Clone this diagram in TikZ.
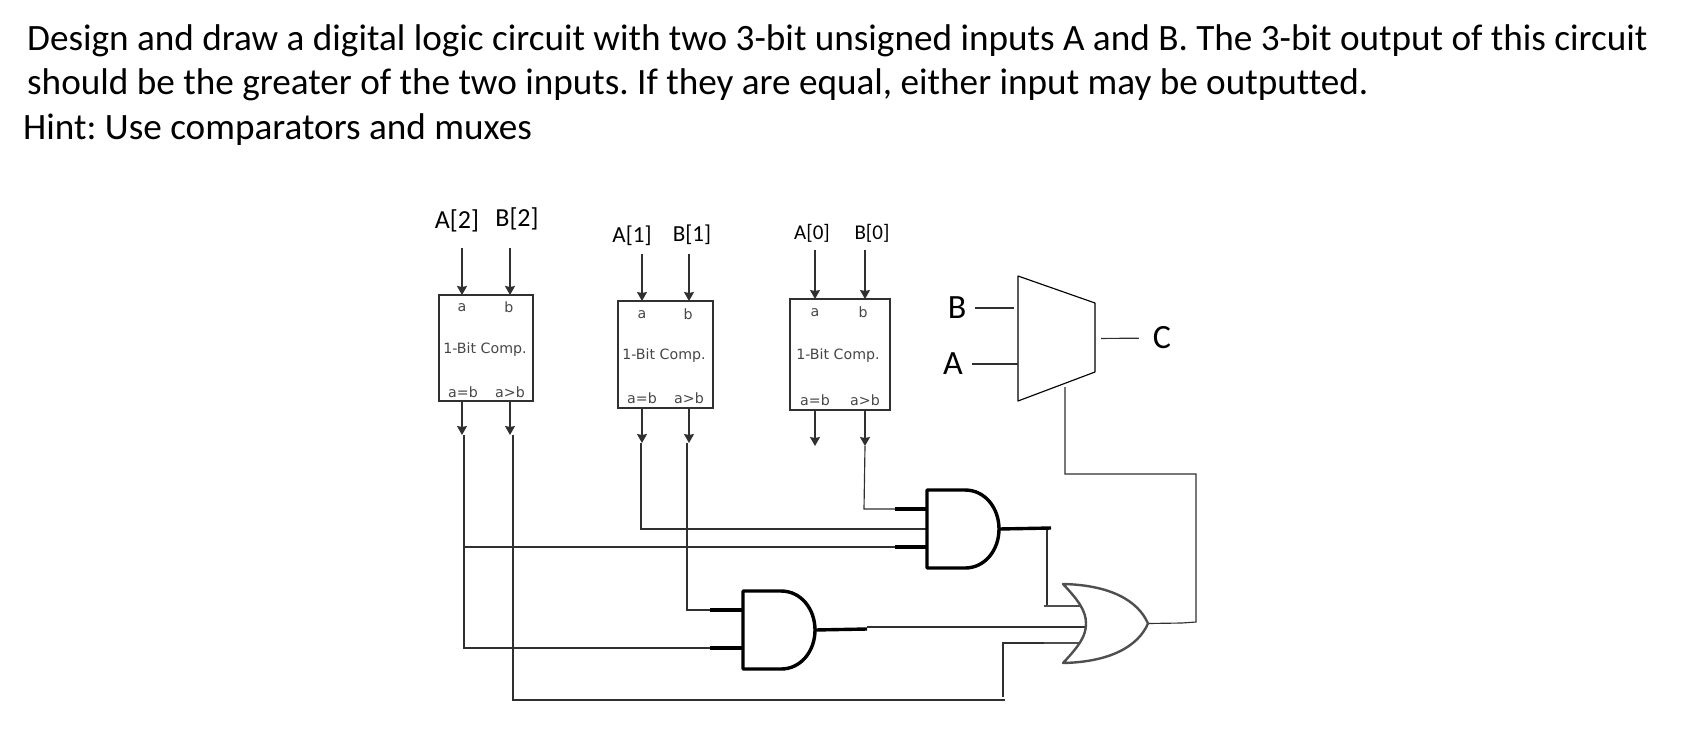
\documentclass[tikz,border=0pt]{standalone}
\usepackage{fontspec}
\setmainfont[Ligatures=NoCommon]{Carlito}
\newfontfamily\compfont{DejaVu Sans}
\usetikzlibrary{arrows.meta}
\definecolor{wiregray}{RGB}{48,48,48}
\definecolor{compgray}{RGB}{70,70,70}
\frenchspacing
\newcommand{\andgate}[1]{%
  \draw[gate line,fill=white] (#1.north west) -- ++(38,0) .. controls +(20,0) and +(0,-21) .. (#1.east)
    .. controls +(0,21) and +(20,0) .. ++(-34,39) -- (#1.south west) -- cycle;}
\newcommand{\orgate}[1]{%
  \draw[or line,fill=white] (#1.north west) .. controls +(47,1) and +(-10,-23) .. (#1.east)
    .. controls +(-10,23) and +(47,-1) .. (#1.south west)
    .. controls +(17,-18) and +(0,12) .. ++(23,-39.5)
    .. controls +(0,-13) and +(15,16) .. (#1.north west) -- cycle;}
\begin{document}
\begin{tikzpicture}[x=1pt,y=-1pt,>={Stealth[length=9pt,width=10pt,inset=1pt]},
  title text/.style={anchor=base west,inner sep=0pt,font=\fontsize{37.2}{37.2}\selectfont},
  comp box/.style={rectangle,draw=wiregray,line width=1.2pt,outer sep=0pt,inner sep=0pt},
  comp text/.style={inner sep=0pt,text=compgray,font=\compfont\fontsize{14.2}{14.2}\selectfont},
  hand/.style={inner sep=0pt,font=\fontsize{#1}{#1}\selectfont},
  wire/.style={draw=wiregray,line width=1.15pt},
  stub/.style={draw=black,line width=3.4pt},
  gate line/.style={draw=black,line width=3.4pt,line join=round},
  or line/.style={draw=wiregray!85,line width=2.4pt,line join=round},
  gate box/.style={rectangle,draw=none,outer sep=0pt,inner sep=0pt}]

  \useasboundingbox (0,0) rectangle (1684,737);

  \node[title text] (t1) at (27,50) {Design and draw a digital logic circuit with two 3-bit unsigned inputs A and B. The 3-bit output of this circuit};
  \node[title text] (t2) at (27,94) {should be the greater of the two inputs. If they are equal, either input may be outputted.};
  \node[title text] (t3) at (23,139) {Hint: Use comparators and muxes};

  \node[comp box,minimum width=94pt,minimum height=106pt] (1) at (486,348) {};
  \node[comp box,minimum width=95pt,minimum height=107pt] (2) at (665.5,354.5) {};
  \node[comp box,minimum width=100pt,minimum height=111pt] (3) at (840,354.5) {};
  \node[gate box,minimum width=72pt,minimum height=78pt] (4) at (963,529) {};
  \node[gate box,minimum width=72pt,minimum height=78pt] (5) at (779,630) {};
  \node[gate box,minimum width=85pt,minimum height=79pt] (6) at (1105.5,623.5) {};
  \node[gate box,minimum width=77pt,minimum height=125pt] (7) at (1056.5,338.5) {};

  \node[comp text] (1a) at (462,308) {a};
  \node[comp text] (1b) at (509,307) {b};
  \node[comp text] (1t) at (485,350) {1-Bit Comp.};
  \node[comp text] (1e) at (463,392) {a=b};
  \node[comp text] (1g) at (510,392) {a>b};
  \node[comp text] (2a) at (642,315) {a};
  \node[comp text] (2b) at (688,314) {b};
  \node[comp text] (2t) at (664,356) {1-Bit Comp.};
  \node[comp text] (2e) at (642,398) {a=b};
  \node[comp text] (2g) at (689,398) {a>b};
  \node[comp text] (3a) at (815,313) {a};
  \node[comp text] (3b) at (863,312) {b};
  \node[comp text] (3t) at (838,356) {1-Bit Comp.};
  \node[comp text] (3e) at (815,400) {a=b};
  \node[comp text] (3g) at (865,400) {a>b};

  \node[hand=26] (a2) at (457,221) {A[2]};
  \node[hand=26] (b2) at (517,219) {B[2]};
  \node[hand=23] (a1) at (632,236) {A[1]};
  \node[hand=23] (b1) at (692,235) {B[1]};
  \node[hand=21] (a0) at (812,233) {A[0]};
  \node[hand=21] (b0) at (872,233) {B[0]};
  \node[hand=34] (8) at (957,308) {B};
  \node[hand=34] (9) at (953,364) {A};
  \node[hand=34] (10) at (1162,338) {C};

  \coordinate (1at) at (462,248);
  \coordinate (1bt) at (510,248);
  \coordinate (2at) at (642,254);
  \coordinate (2bt) at (689,254);
  \coordinate (3at) at (815,250);
  \coordinate (3bt) at (865,250);
  \coordinate (1eo) at (462,435);
  \coordinate (1go) at (510,435);
  \coordinate (2eo) at (642,443);
  \coordinate (2go) at (689,443);
  \coordinate (3eo) at (815,446);
  \coordinate (3go) at (865,446);

  \path[every edge/.append style={wire,line width=1.2pt,->}]
    (1at) edge (1at |- 1.north)
    (1bt) edge (1bt |- 1.north)
    (2at) edge (2at |- 2.north)
    (2bt) edge (2bt |- 2.north)
    (3at) edge (3at |- 3.north)
    (3bt) edge (3bt |- 3.north)
    (1eo |- 1.south) edge (1eo)
    (1go |- 1.south) edge (1go)
    (2eo |- 2.south) edge (2eo)
    (2go |- 2.south) edge (2go)
    (3eo |- 3.south) edge (3eo)
    (3go |- 3.south) edge (3go);

  \coordinate (w1e) at (464,435);
  \coordinate (w1g) at (513,435);
  \coordinate (w2e) at (641,443);
  \coordinate (w2g) at (687,443);
  \coordinate (w3g) at (864,509);
  \coordinate (i41) at (895,509);
  \coordinate (i43) at (895,547);
  \coordinate (i51) at (710,610);
  \coordinate (i53) at (710,648);
  \coordinate (i61) at (1044,606);
  \coordinate (i62) at (1090,627);
  \coordinate (i63) at (1044,643);
  \coordinate (o4) at (1051,528);
  \coordinate (o4d) at (1047,528);
  \coordinate (o5) at (867,629);
  \coordinate (o5a) at (867,627);
  \coordinate (o6) at (1182,623);
  \coordinate (bend) at (1196,622);
  \coordinate (top) at (1196,474);
  \coordinate (bus) at (1005,700);
  \coordinate (busup) at (1003,697);
  \coordinate (sel) at (1065,387);

  \draw[wire] (w1e) |- (i53);
  \draw[wire] (w1e |- i43) -- (i43);
  \draw[wire] (w1g) |- (bus);
  \draw[wire] (w2e) |- (4.west);
  \draw[wire] (w2g) |- (i51);
  \draw[wire] (3go) -- (w3g) -- (i41);
  \draw[wire] (busup) |- (i63);
  \draw[wire] (o4d) |- (i61);
  \draw[wire] (o5a) -- (i62);
  \draw[wire] (6.east) -- (o6) -- (bend) -- (top) -| (sel);

  \draw[stub] (i41) -- (i41 -| 4.west);
  \draw[stub] (i43) -- (i43 -| 4.west);
  \draw[stub] (i51) -- (i51 -| 5.west);
  \draw[stub] (i53) -- (i53 -| 5.west);
  \draw[stub] (4.east) -- (o4);
  \draw[stub] (5.east) -- (o5);
  \draw[or line] (i61) -- ++(40,0);
  \draw[or line] (i63) -- ++(40,0);

  \andgate{4}
  \andgate{5}
  \orgate{6}

  \draw[wire,draw=black,line join=round] (7.north west) -- ++(77,27) -- ++(0,69) -- (7.south west) -- cycle;
  \draw[wire,shorten <=9pt,shorten >=4pt] (8) -- (7.west |- 8);
  \draw[wire,shorten <=9pt] (9) -- (7.west |- 9);
  \draw[wire,shorten <=6pt,shorten >=14pt] (7.east) -- (10);
\end{tikzpicture}
\end{document}
